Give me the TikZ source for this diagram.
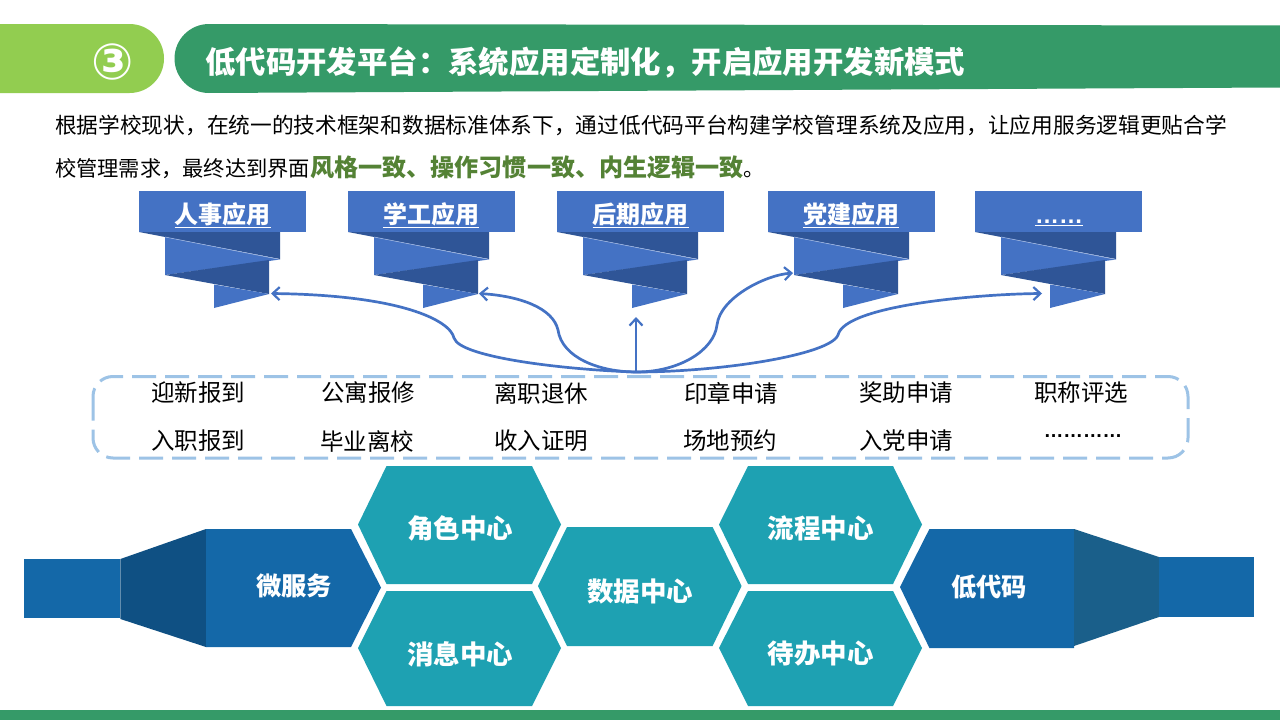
\documentclass[tikz,border=0pt]{standalone}
\usepackage{fontspec}
\setmainfont{Noto Sans CJK SC}
\newfontfamily\dotfont{Liberation Sans}
\newfontfamily\ringfont{DejaVu Sans}
\usetikzlibrary{arrows.meta}
\definecolor{lime}{HTML}{92CD50}
\definecolor{hgreen}{HTML}{359A68}
\definecolor{ribbon}{HTML}{4472C4}
\definecolor{ribbond}{HTML}{2F5597}
\definecolor{dashblue}{HTML}{9DC3E6}
\definecolor{teal}{HTML}{1EA1B2}
\definecolor{mblue}{HTML}{1468A8}
\definecolor{dblue}{HTML}{0F5083}
\definecolor{dblueb}{HTML}{1A5F8A}
\definecolor{emph}{HTML}{548235}
\newcommand{\fsz}[1]{\fontsize{#1pt}{#1pt}\selectfont}
\tikzset{
  x=1pt,y=-1pt,
  apptext/.style={text=white,font=\fsz{24}\bfseries,inner sep=0pt},
  midtext/.style={text=black,font=\fsz{23.5},inner sep=0pt},
  hextext/.style={text=white,font=\fsz{26.5}\bfseries,inner sep=0pt},
  svctext/.style={text=white,font=\fsz{25.3}\bfseries,inner sep=0pt},
  bodytext/.style={text=black,font=\fsz{21.7},inner sep=0pt,anchor=base west},
  flow/.style={ribbon,line width=2.7pt,-{Straight Barb[length=7pt,width=13pt,line width=2.2pt]}},
  pics/ribbonshape/.style={code={
    \fill[ribbond] (0,232)--(141,232)--(141,259)--cycle;
    \fill[ribbon] (26,237)--(141,259.5)--(26,275)--cycle;
    \draw[ribbon!55!white,line width=0.6pt] (26,237)--(141,259.5);
    \fill[ribbond] (26,275)--(130,260)--(130,294)--cycle;
    \fill[ribbon] (75,284.5)--(130,294)--(75,308)--cycle;
    \fill[ribbon] (0,191) rectangle (#1,232);
  }}
}
\begin{document}
\begin{tikzpicture}
\useasboundingbox (0,0) rectangle (1280,720);
\fill[white] (0,0) rectangle (1280,720);
% header
\fill[lime] (0,24) -- (129.5,24) arc[start angle=-90,end angle=90,radius=34.5] -- (0,93) -- cycle;
\fill[hgreen] (209,24) -- (1280,25.5) -- (1280,87.5) -- (209,93) arc[start angle=90,end angle=270,radius=34.5] -- cycle;
\node[text=white,font=\ringfont\fsz{50}\bfseries,inner sep=0pt] (num) at (113,62) {③};
\node[text=white,font=\fsz{30.4}\bfseries,inner sep=0pt,anchor=base west] (title) at (205,73) {低代码开发平台：系统应用定制化，开启应用开发新模式};
% body
\node[bodytext] (l1) at (55,133) {根据学校现状，在统一的技术框架和数据标准体系下，通过低代码平台构建学校管理系统及应用，让应用服务逻辑更贴合学};
\node[bodytext] (l2) at (55,176) {\fsz{21.25}校管理需求，最终达到界面{\fsz{24.1}\bfseries\color{emph}风格一致、操作习惯一致、内生逻辑一致}。};
% ribbons
\pic at (139,0) {ribbonshape=167};
\pic at (348,0) {ribbonshape=167};
\pic at (557,0) {ribbonshape=167};
\pic at (768,0) {ribbonshape=167};
\pic at (975,0) {ribbonshape=167};
\node[apptext] (a1) at (222.5,215) {\underline{人事应用}};
\node[apptext] (a2) at (431,215) {\underline{学工应用}};
\node[apptext] (a3) at (640.5,215) {\underline{后期应用}};
\node[apptext] (a4) at (851,215) {\underline{党建应用}};
\node[apptext,anchor=base] (a5) at (1059,223.5) {\underline{\dotfont\bfseries ……}};
% flows
\coordinate (src) at (636,372);
\coordinate (t1) at (271,293.5);
\coordinate (t2) at (479,293.5);
\coordinate (t3) at (636,317);
\coordinate (t4) at (793,273);
\coordinate (t5) at (1042,293.5);
\draw[flow] (src) .. controls (570,370) and (460,358) .. (454,338)
  .. controls (450,320) and (400,295) .. (t1);
\draw[flow] (src) .. controls (600,372) and (562,358) .. (558,330)
  .. controls (553,308) and (520,296) .. (t2);
\draw[flow] (src) -- (t3);
\draw[flow] (src) .. controls (680,372) and (714,350) .. (717,325)
  .. controls (720,298) and (765,275) .. (t4);
\draw[flow] (src) .. controls (720,372) and (830,355) .. (838,335)
  .. controls (845,305) and (980,294) .. (t5);
% dashed box
\draw[dashblue,line width=3pt,dash pattern=on 24pt off 9pt,rounded corners=20pt] (93,376.5) rectangle (1188,458);
\foreach \n/\x/\t in {m1/198/迎新报到,m2/368/公寓报修,m3/541/离职退休,m4/731/印章申请,m5/906/奖助申请,m6/1081/职称评选}
  \node[midtext] (\n) at (\x,393) {\t};
\foreach \n/\x/\t in {b1/198/入职报到,b2/367/毕业离校,b3/541/收入证明,b4/730/场地预约,b5/906/入党申请}
  \node[midtext] (\n) at (\x,441) {\t};
\node[text=black,font=\dotfont\fsz{19.6}\bfseries,inner sep=0pt] (b6) at (1083,436) {…………};
% left funnel
\fill[mblue] (24,559) rectangle (120.4,618);
\fill[dblue] (120.4,559)--(206,529)--(206,647)--(120.4,619)--cycle;
\fill[mblue] (206,529)--(351,529)--(381,587.5)--(351,647)--(206,647)--cycle;
% right funnel
\fill[mblue] (900,587)--(929.4,529)--(1074,529)--(1074,648)--(929.4,648)--cycle;
\fill[dblueb] (1074,529)--(1159,557)--(1159,617)--(1074,646)--cycle;
\fill[mblue] (1159,557) rectangle (1254,617);
% hexagons
\fill[teal] (386.5,466)--(532,466)--(561,524.5)--(532,584)--(386.5,584)--(358,524.5)--cycle;
\fill[teal] (386.5,591)--(532,591)--(561,648)--(532,706)--(386.5,706)--(358,648)--cycle;
\fill[teal] (567,527)--(712.6,527)--(741.6,586)--(712.6,646)--(567,646)--(538,586)--cycle;
\fill[teal] (748,466)--(893,466)--(922,524.5)--(893,584)--(748,584)--(719,524.5)--cycle;
\fill[teal] (748,591)--(893,591)--(922,648)--(893,706)--(748,706)--(719,648)--cycle;
\node[hextext] (h1) at (460,528) {角色中心};
\node[hextext] (h2) at (460,654) {消息中心};
\node[hextext] (h3) at (640,591) {数据中心};
\node[hextext] (h4) at (820.5,528) {流程中心};
\node[hextext] (h5) at (820.5,654) {待办中心};
\node[svctext] (s1) at (294,586) {微服务};
\node[svctext] (s2) at (989,587) {低代码};
% footer
\fill[hgreen] (0,710) rectangle (1280,720);
\end{tikzpicture}
\end{document}
